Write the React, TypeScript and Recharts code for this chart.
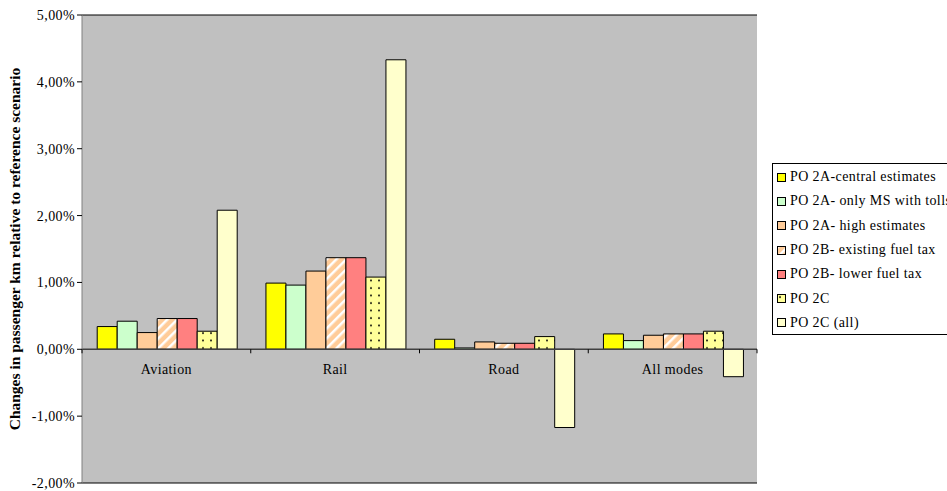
import React from 'react';
import {
  Bar,
  BarChart,
  CartesianGrid,
  ReferenceLine,
  XAxis,
  YAxis,
} from 'recharts';

const categories = ['Aviation', 'Rail', 'Road', 'All modes'];
const po2aCentral = [0.34, 0.99, 0.15, 0.23];
const po2aOnlyMs = [0.42, 0.96, 0.02, 0.13];
const po2aHigh = [0.25, 1.17, 0.11, 0.21];
const po2bExisting = [0.46, 1.37, 0.09, 0.23];
const po2bLower = [0.46, 1.37, 0.09, 0.23];
const po2c = [0.27, 1.08, 0.19, 0.27];
const po2cAll = [2.08, 4.33, -1.17, -0.41];

const seriesNames = [
  'PO 2A-central estimates',
  'PO 2A- only MS with tolls',
  'PO 2A- high estimates',
  'PO 2B- existing fuel tax',
  'PO 2B- lower fuel tax',
  'PO 2C',
  'PO 2C (all)',
];
const yTicks = [-2, -1, 0, 1, 2, 3, 4, 5];

const seriesValues = [po2aCentral, po2aOnlyMs, po2aHigh, po2bExisting, po2bLower, po2c, po2cAll];
const seriesFills = ['#ffff00', '#ccffcc', '#ffcc99', 'hatch', '#ff8080', 'dots', '#ffffcc'];

const data = categories.map((name, i) => {
  const row: Record<string, string | number> = { name };
  seriesValues.forEach((vals, s) => {
    row['s' + s] = vals[i];
  });
  return row;
});

const W = 947;
const H = 491;
const M = { top: 15, right: 190, bottom: 7, left: 0 };
const Y_AXIS_W = 82;
const plotTop = M.top;
const plotBottom = H - M.bottom - 1;
const plotLeft = M.left + Y_AXIS_W;
const plotRight = W - M.right;
const yMin = yTicks[0];
const yMax = yTicks[yTicks.length - 1];
const zeroY = plotTop + ((yMax - 0) / (yMax - yMin)) * (plotBottom - plotTop);
const band = (plotRight - plotLeft) / categories.length;

const font = '"Liberation Serif", "Times New Roman", serif';

const fmt = (v: number) => v.toFixed(2).replace('.', ',') + '%';

function Patterns({ prefix }: { prefix: string }) {
  return (
    <defs>
      <pattern
        id={prefix + 'hatch'}
        width="7"
        height="7"
        patternUnits="userSpaceOnUse"
        patternTransform="rotate(45)"
      >
        <rect width="7" height="7" fill="#ffcc99" />
        <rect x="0" y="0" width="2.5" height="7" fill="#ffffff" />
      </pattern>
      <pattern id={prefix + 'dots'} width="8" height="7.5" patternUnits="userSpaceOnUse">
        <rect width="8" height="7.5" fill="#ffff99" />
        <circle cx="3" cy="3" r="1" fill="#000" />
      </pattern>
    </defs>
  );
}

const fillFor = (f: string, prefix: string) =>
  f === 'hatch' || f === 'dots' ? `url(#${prefix}${f})` : f;

function CategoryTick(props: any) {
  const { x, payload, index } = props;
  return (
    <g>
      <line x1={x - band / 2} x2={x - band / 2} y1={zeroY} y2={zeroY + 4} stroke="#000" />
      {index === categories.length - 1 && (
        <line x1={x + band / 2} x2={x + band / 2} y1={zeroY} y2={zeroY + 4} stroke="#000" />
      )}
      <text
        x={x}
        y={zeroY + 25}
        textAnchor="middle"
        fontFamily={font}
        fontSize={14}
        letterSpacing={0.4}
        fill="#000"
      >
        {payload.value}
      </text>
    </g>
  );
}

function YLabel() {
  const cy = (plotTop + plotBottom) / 2;
  return (
    <text
      x={14}
      y={cy}
      transform={`rotate(-90, 14, ${cy})`}
      textAnchor="middle"
      dominantBaseline="central"
      fontFamily={font}
      fontSize={15.5}
      fontWeight="bold"
      fill="#000"
    >
      Changes in passenger km relative to reference scenario
    </text>
  );
}

export default function App() {
  return (
    <div style={{ position: 'relative', width: W, height: H, background: '#fff' }}>
      <style>{'body{margin:0}'}</style>
      <BarChart
        width={W}
        height={H}
        data={data}
        margin={M}
        barCategoryGap="9%"
        barGap={0}
      >
        <Patterns prefix="c-" />
        <CartesianGrid
          vertical={false}
          fill="#c0c0c0"
          fillOpacity={1}
          stroke="#000"
          strokeOpacity={1}
        />
        <XAxis
          dataKey="name"
          height={1}
          axisLine={false}
          tickLine={false}
          interval={0}
          tick={<CategoryTick />}
        />
        <YAxis
          yAxisId="0"
          width={Y_AXIS_W}
          domain={[yMin, yMax]}
          ticks={yTicks}
          interval={0}
          tickFormatter={fmt}
          axisLine={{ stroke: '#808080' }}
          tickLine={{ stroke: '#000' }}
          tickSize={5}
          tick={{ fontFamily: font, fontSize: 14, fill: '#000', letterSpacing: 0.4 }}
          label={<YLabel />}
        />
        <YAxis
          yAxisId="r"
          orientation="right"
          width={0}
          domain={[yMin, yMax]}
          ticks={yTicks}
          tick={false}
          tickLine={false}
          axisLine={{ stroke: '#808080' }}
        />
        {seriesNames.map((n, s) => (
          <Bar
            key={n}
            yAxisId="0"
            dataKey={'s' + s}
            name={n}
            fill={fillFor(seriesFills[s], 'c-')}
            stroke="#000"
            strokeWidth={1}
            isAnimationActive={false}
          />
        ))}
        <ReferenceLine yAxisId="0" y={0} stroke="#404040" strokeWidth={1.5} />
      </BarChart>
      <div
        style={{
          position: 'absolute',
          left: 772,
          top: 163,
          width: 200,
          height: 172,
          border: '1px solid #000',
          background: '#fff',
          boxSizing: 'border-box',
          fontFamily: font,
          fontSize: 14,
          letterSpacing: 0.4,
          color: '#000',
          paddingTop: 1,
        }}
      >
        {seriesNames.map((n, s) => (
          <div
            key={n}
            style={{ height: 24.3, display: 'flex', alignItems: 'center', paddingLeft: 4, whiteSpace: 'nowrap' }}
          >
            <svg width={9} height={9} style={{ marginRight: 4, flex: 'none' }}>
              <Patterns prefix={'l' + s + '-'} />
              <rect
                x={0.5}
                y={0.5}
                width={8}
                height={8}
                fill={fillFor(seriesFills[s], 'l' + s + '-')}
                stroke="#000"
              />
            </svg>
            <span>{n}</span>
          </div>
        ))}
      </div>
    </div>
  );
}
